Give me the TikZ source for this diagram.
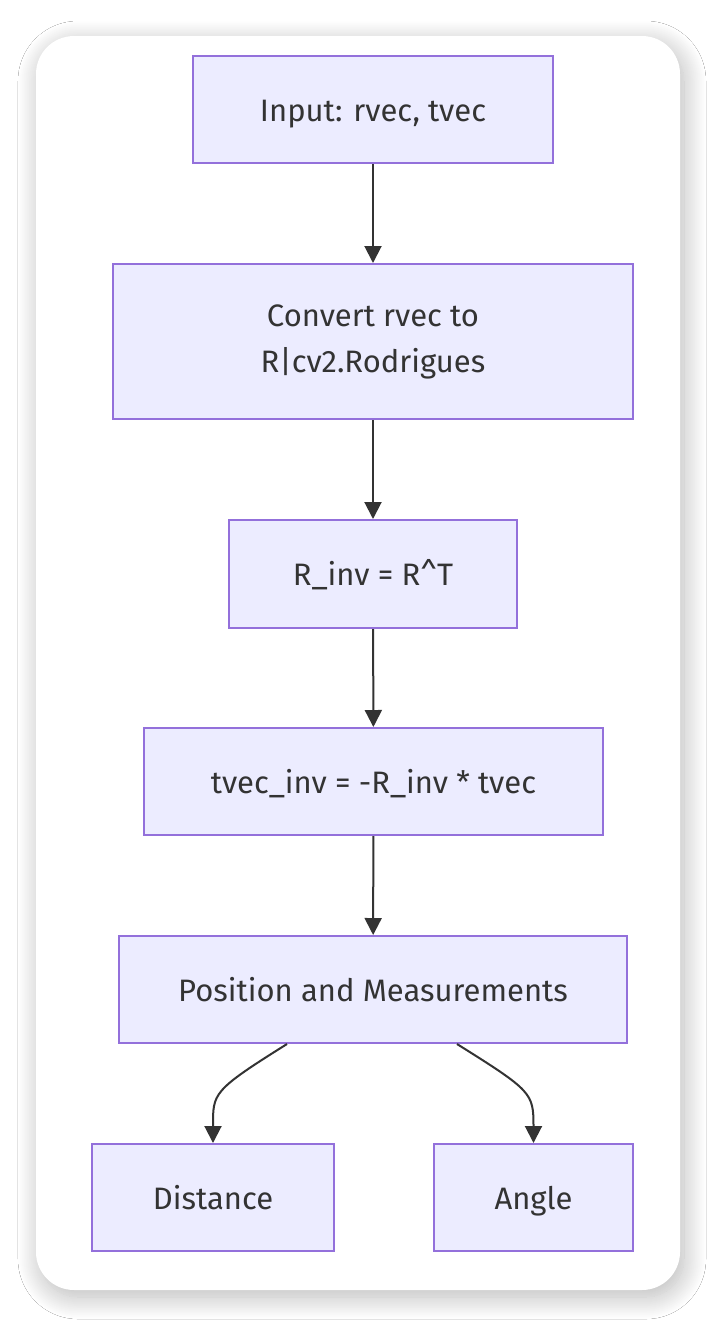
\documentclass[tikz,border=0pt]{standalone}
\usepackage{fontspec}
\setmainfont{Fira Sans}
\usetikzlibrary{arrows.meta,shadows.blur,calc}
\definecolor{nodefill}{HTML}{ECECFF}
\definecolor{nodeline}{HTML}{9370DB}
\definecolor{ink}{HTML}{333333}
\begin{document}
\begin{tikzpicture}[x=1pt,y=-1pt,
  box/.style={draw=nodeline,fill=nodefill,line width=2pt,rectangle,inner sep=0pt,
    text=ink,font=\fontsize{31}{46}\selectfont,align=center},
  one/.style={text height=27pt,text depth=4pt},
  arr/.style={draw=ink,line width=2pt,-{Triangle[length=17pt,width=17pt]}},
  ]
\useasboundingbox (0,0) rectangle (716,1326);
\fill[white] (0,0) rectangle (716,1326);
\fill[white,rounded corners=38pt,blur shadow={shadow xshift=4pt,shadow yshift=-7pt,shadow blur radius=22pt,shadow blur steps=24,shadow opacity=28}] (36,36) rectangle (680,1290);
\node[box,one,minimum width=360pt,minimum height=107pt] (in) at (373,109.5) {Input: rvec, tvec};
\node[box,minimum width=520pt,minimum height=155pt] (cv) at (373,341.5) {\raisebox{-3pt}{\parbox{500pt}{\centering Convert rvec to\\R|cv2.Rodrigues}}};
\node[box,one,minimum width=288pt,minimum height=108pt] (ri) at (373,574) {R\_inv = R\^{}T};
\node[box,one,minimum width=459pt,minimum height=107pt] (ti) at (373.5,781.5) {tvec\_inv = -R\_inv * tvec};
\node[box,one,minimum width=508pt,minimum height=107pt] (pm) at (373,989.5) {Position and Measurements};
\node[box,one,minimum width=242pt,minimum height=107pt] (di) at (213,1197.5) {Distance};
\node[box,one,minimum width=199pt,minimum height=107pt] (an) at (533.5,1197.5) {Angle};
\draw[arr] (in) -- (cv);
\draw[arr] (cv) -- (ri);
\draw[arr] (ri) -- (ti);
\draw[arr] (ti) -- (pm);
\coordinate (p1) at ($(pm.south west)+(169,0)$);
\coordinate (p2) at ($(pm.south west)+(339,0)$);
\draw[arr] (p1) .. controls ($(p1)+(-75,47)$) and ($(di.north)+(0,-50)$) .. (di.north);
\draw[arr] (p2) .. controls ($(p2)+(75,47)$) and ($(an.north)+(0,-50)$) .. (an.north);
\end{tikzpicture}
\end{document}
